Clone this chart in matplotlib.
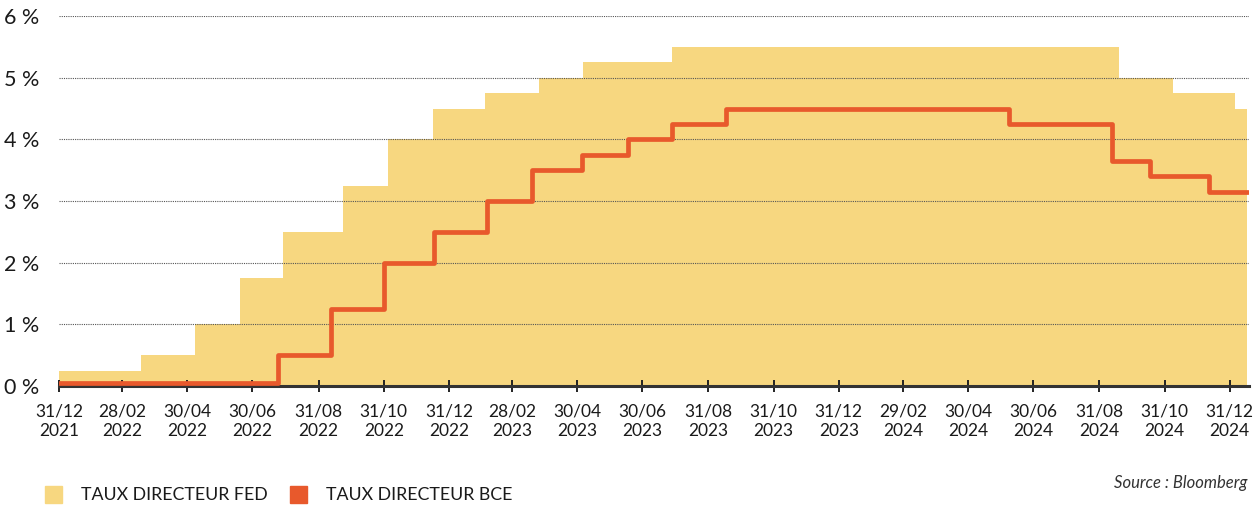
import matplotlib
matplotlib.use("Agg")
import matplotlib.pyplot as plt
import numpy as np
import pandas as pd

# taux directeur FED (borne haute) - dates de changement
fed_dates = ['2021-12-31', '2022-03-18', '2022-05-07', '2022-06-18', '2022-07-29',
             '2022-09-23', '2022-11-04', '2022-12-16', '2023-02-03', '2023-03-25',
             '2023-05-06', '2023-07-28', '2024-09-18', '2024-11-08', '2025-01-05',
             '2025-01-16']
fed_vals = [0.25, 0.50, 1.00, 1.75, 2.50, 3.25, 4.00, 4.50, 4.75, 5.00,
            5.25, 5.50, 5.00, 4.75, 4.50, 4.50]

# taux directeur BCE
bce_dates = ['2021-12-31', '2022-07-24', '2022-09-12', '2022-10-31', '2022-12-17',
             '2023-02-05', '2023-03-19', '2023-05-05', '2023-06-17', '2023-07-28',
             '2023-09-16', '2024-06-07', '2024-09-12', '2024-10-17', '2024-12-12',
             '2025-01-17']
bce_vals = [0.05, 0.50, 1.25, 2.00, 2.50, 3.00, 3.50, 3.75, 4.00, 4.25,
            4.50, 4.25, 3.65, 3.40, 3.15, 3.15]

tick_dates = ['2021-12-31', '2022-02-28', '2022-04-30', '2022-06-30', '2022-08-31',
              '2022-10-31', '2022-12-31', '2023-02-28', '2023-04-30', '2023-06-30',
              '2023-08-31', '2023-10-31', '2023-12-31', '2024-02-29', '2024-04-30',
              '2024-06-30', '2024-08-31', '2024-10-31', '2024-12-31']
tick_labels = [d[8:10] + '/' + d[5:7] + '\n' + d[:4] for d in tick_dates]

fed_x = pd.to_datetime(fed_dates)
bce_x = pd.to_datetime(bce_dates)

FED_COL = '#F7D780'
BCE_COL = '#E8592C'
TXT = '#1a1a1a'

plt.rcParams['font.family'] = ['Lato', 'DejaVu Sans']

fig = plt.figure(figsize=(12.58, 5.09), dpi=100)
ax = fig.add_axes([59 / 1258, 123 / 509, 1190 / 1258, 370 / 509])

ax.fill_between(fed_x, fed_vals, step='post', color=FED_COL, linewidth=0, zorder=1)
ax.step(bce_x, bce_vals, where='post', color=BCE_COL, linewidth=3.4,
        solid_capstyle='round', solid_joinstyle='round', zorder=3)

ax.set_ylim(0, 6)
ax.set_xlim(pd.Timestamp('2021-12-31'), pd.Timestamp('2025-01-18'))
ax.set_yticks(np.arange(0, 7, 1))
ax.set_yticklabels([f'{i} %' for i in range(7)])
ax.set_xticks(pd.to_datetime(tick_dates))
ax.set_xticklabels(tick_labels, linespacing=1.25)

ax.set_axisbelow(False)
ax.yaxis.grid(True, linestyle=(0, (1, 1)), color='#555555', linewidth=0.8)
ax.xaxis.grid(False)

for s in ['top', 'right', 'left']:
    ax.spines[s].set_visible(False)
ax.spines['bottom'].set_color('#333333')
ax.spines['bottom'].set_linewidth(2.2)
ax.spines['bottom'].set_zorder(2.6)

ax.tick_params(axis='y', length=0, pad=14, labelsize=15.5, labelcolor=TXT)
ax.tick_params(axis='x', direction='inout', length=9, width=1.4, color='#222222',
               pad=8, labelsize=12.5, labelcolor=TXT)

# légende
fig.patches.append(plt.Rectangle((45 / 1258, 6 / 509), 17 / 1258, 17 / 509,
                                 transform=fig.transFigure, color=FED_COL))
fig.text(81 / 1258, 14.5 / 509, 'TAUX DIRECTEUR FED', fontsize=12.8, color=TXT,
         va='center', ha='left')
fig.patches.append(plt.Rectangle((290 / 1258, 6 / 509), 17 / 1258, 17 / 509,
                                 transform=fig.transFigure, color=BCE_COL))
fig.text(326 / 1258, 14.5 / 509, 'TAUX DIRECTEUR BCE', fontsize=12.8, color=TXT,
         va='center', ha='left')
fig.text(1247 / 1258, 26 / 509, 'Source : Bloomberg', fontsize=12, style='italic',
         color='#333333', ha='right', va='center')

fig.savefig('out.png', dpi=100)
